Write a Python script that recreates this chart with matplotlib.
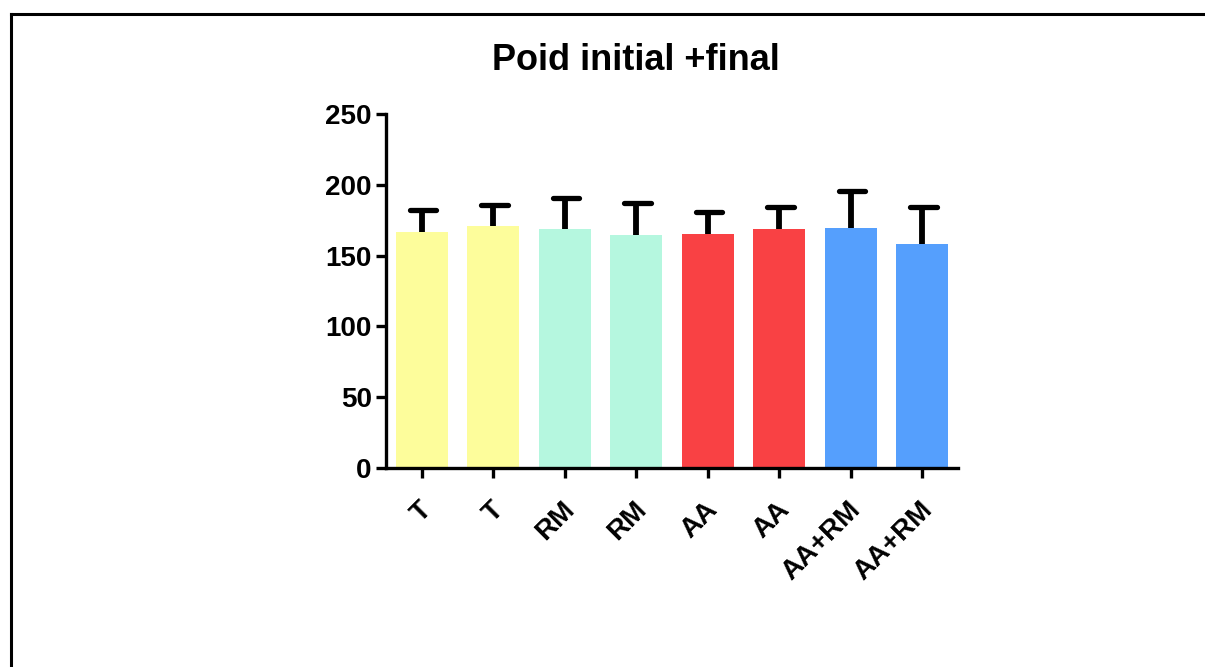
import numpy as np
import matplotlib.pyplot as plt
import matplotlib.transforms as mtransforms
from matplotlib.lines import Line2D

plt.rcParams['font.family'] = ['Liberation Sans', 'DejaVu Sans']
plt.rcParams['font.weight'] = 'bold'

# data
groups = ["T", "T", "RM", "RM", "AA", "AA", "AA+RM", "AA+RM"]
means = [167, 171, 168.5, 164.5, 165.5, 169, 169.5, 158]
sd = [15.5, 15, 22.5, 23, 15, 15.5, 26, 26]
bar_colors = ["#FDFD9B", "#FDFD9B", "#B5F7DF", "#B5F7DF",
              "#F94144", "#F94144", "#559FFD", "#559FFD"]

fig = plt.figure(figsize=(12.05, 6.67), dpi=100)
fig.patch.set_facecolor("white")

# outer frame (top + left only)
fig.add_artist(Line2D([11 / 1205, 1.0], [1 - 14 / 667, 1 - 14 / 667],
                      transform=fig.transFigure, color="black", lw=2.2))
fig.add_artist(Line2D([11 / 1205, 11 / 1205], [0, 1 - 14 / 667],
                      transform=fig.transFigure, color="black", lw=2.2))

ax = fig.add_axes([386 / 1205, 1 - 468 / 667, (958 - 386) / 1205, (468 - 114) / 667])
x = np.arange(len(groups))
m = np.array(means)
e = np.array(sd)
ax.bar(x, m, width=0.73, color=bar_colors, zorder=2)
# upper error bars only
ax.vlines(x, m, m + e, color="black", lw=4.2, zorder=3)
ax.hlines(m + e, x - 0.17, x + 0.2, color="black", lw=3.8, zorder=3,
          capstyle="round")

ax.set_xlim(-0.5, len(groups) - 0.5)
ax.set_ylim(0, 250)
ax.set_yticks([0, 50, 100, 150, 200, 250])
ax.set_xticks(x)
ax.set_xticklabels(groups, rotation=45, ha="right", va="center",
                   rotation_mode="anchor")

for s in ["top", "right"]:
    ax.spines[s].set_visible(False)
for s in ["left", "bottom"]:
    ax.spines[s].set_linewidth(2.4)

ax.tick_params(axis="both", width=2.4, length=7.2, pad=3)
ax.tick_params(axis="y", labelsize=20)
ax.tick_params(axis="x", labelsize=20, pad=10)
offset = mtransforms.ScaledTranslation(6 / 100, -14 / 100, fig.dpi_scale_trans)
for lab in ax.get_xticklabels():
    lab.set_fontweight("bold")
    lab.set_transform(lab.get_transform() + offset)
for lab in ax.get_yticklabels():
    lab.set_fontweight("bold")

fig.text(636 / 1205, 1 - 60 / 667, "Poid initial +final", ha="center", va="center",
         fontsize=26, fontweight="bold")

fig.savefig("out.png", dpi=100)
